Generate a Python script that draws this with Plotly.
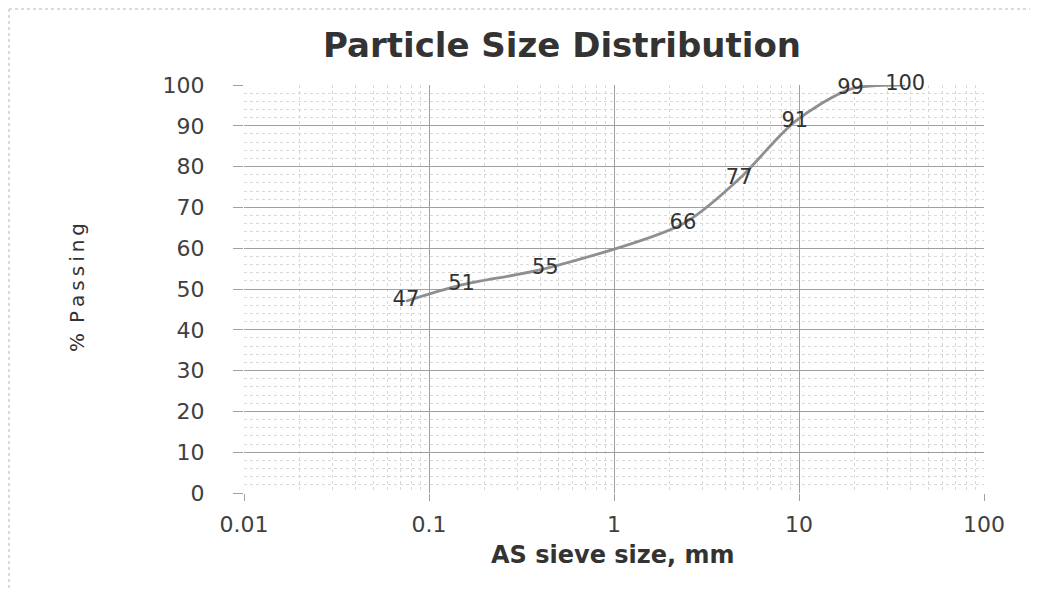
import plotly.graph_objects as go

sieve_mm = [0.075, 0.15, 0.425, 2.36, 4.75, 9.5, 19, 37.5]
passing = [47, 51, 55, 66, 77, 91, 99, 100]
labels = [str(v) for v in passing]
x_ticks = [0.01, 0.1, 1, 10, 100]
x_tick_text = ["0.01", "0.1", "1", "10", "100"]

W, H = 1038, 589
L, R, T, B = 236, 62, 77, 104
PW, PH = W - L - R, H - T - B


def px_x(fx):
    return (fx - L) / PW


def px_y(fy):
    return (H - B - fy) / PH


fig = go.Figure()
fig.add_trace(go.Scatter(
    x=sieve_mm, y=passing, text=labels,
    mode="lines+text", textposition="middle center",
    line=dict(color="#8f8f8f", width=2.8, shape="spline", smoothing=0.8),
    textfont=dict(family="DejaVu Sans", size=21, color="#333333"),
    showlegend=False, cliponaxis=False,
))

fig.update_layout(
    width=W, height=H,
    margin=dict(l=L, r=R, t=T, b=B),
    paper_bgcolor="white", plot_bgcolor="white",
    title=dict(text="<b>Particle Size Distribution</b>", x=554 / W, xanchor="center",
               y=1 - 37 / H, yanchor="middle",
               font=dict(family="DejaVu Sans", size=34, color="#333333")),
    annotations=[
        dict(text="<b>AS sieve size, mm</b>", xref="paper", yref="paper",
             x=px_x(605), y=px_y(547), xanchor="center", yanchor="middle",
             showarrow=False,
             font=dict(family="DejaVu Sans", size=24, color="#333333")),
        dict(text="%\u2002P\u2009a\u2009s\u2009s\u2009i\u2009n\u2009g", xref="paper", yref="paper",
             x=px_x(69), y=px_y(280), xanchor="center", yanchor="middle",
             textangle=-90, showarrow=False,
             font=dict(family="DejaVu Sans", size=20, color="#333333")),
    ],
    shapes=[
        dict(type="line", xref="paper", yref="paper",
             x0=px_x(1), x1=px_x(1), y0=px_y(1), y1=px_y(H),
             line=dict(color="#cfcfcf", width=1.5, dash="dot")),
        dict(type="line", xref="paper", yref="paper",
             x0=px_x(1), x1=px_x(W), y0=px_y(1), y1=px_y(1),
             line=dict(color="#cfcfcf", width=1.5, dash="dot")),
    ],
)
fig.update_xaxes(
    type="log", range=[-2, 2],
    tickvals=x_ticks, ticktext=x_tick_text,
    tickfont=dict(family="DejaVu Sans", size=22, color="#404040"),
    showgrid=True, gridcolor="#a0a0a0", gridwidth=1.2,
    minor=dict(showgrid=True, gridcolor="#d8d8d8", griddash="dot", gridwidth=1,
               dtick="D1"),
    showline=False, zeroline=False, ticks="outside", ticklen=7, tickcolor="#a0a0a0",
    ticklabelstandoff=5,
)
fig.update_yaxes(
    range=[0, 100], dtick=10,
    tickfont=dict(family="DejaVu Sans", size=22, color="#404040"),
    showgrid=True, gridcolor="#a0a0a0", gridwidth=1.2,
    minor=dict(showgrid=True, gridcolor="#d8d8d8", griddash="dot", gridwidth=1, dtick=2),
    showline=False, zeroline=False, ticks="outside", ticklen=10, tickcolor="#a0a0a0",
    ticklabelstandoff=24,
)

fig.write_html("out.html")
